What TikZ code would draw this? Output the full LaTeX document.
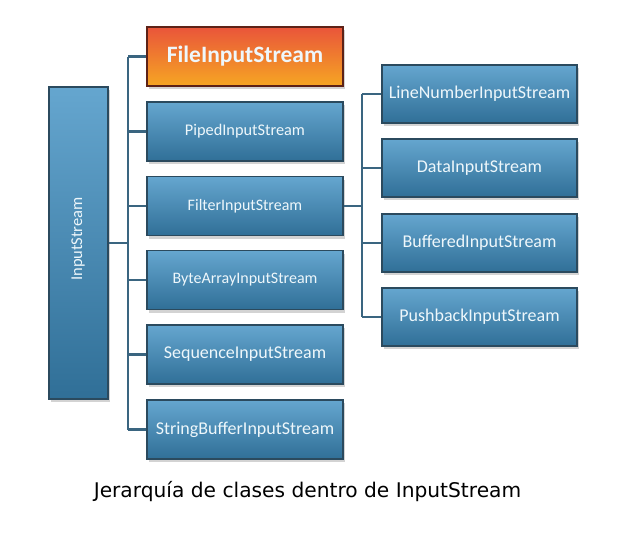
\documentclass[tikz,border=0pt]{standalone}
\usepackage{fontspec}
\newfontfamily\boxfont{Carlito}
\newfontfamily\capfont{DejaVu Sans}
\usetikzlibrary{shadows}
\definecolor{boxtop}{HTML}{65A6CF}
\definecolor{boxbot}{HTML}{306F97}
\definecolor{boxline}{HTML}{2B4A5E}
\definecolor{oratop}{HTML}{E9553A}
\definecolor{orabot}{HTML}{F6A623}
\definecolor{wire}{HTML}{3A6580}
\definecolor{boxtext}{HTML}{EEF7FB}
\tikzset{
  cls/.style={rectangle, draw=boxline, line width=1.2pt, top color=boxtop, bottom color=boxbot,
    text=boxtext, font=\boxfont, minimum width=196pt, minimum height=59pt, inner sep=0pt,
    drop shadow={opacity=0.35, shadow xshift=2pt, shadow yshift=-3pt}},
  sub/.style={cls, minimum width=195pt, minimum height=58pt},
  wire/.style={draw=wire, line width=2.4pt}
}
\begin{document}
\begin{tikzpicture}[x=1pt,y=-1pt]
\useasboundingbox (0,0) rectangle (634,541);
\node [cls, minimum width=59pt, minimum height=312pt] (inp) at (78.5,243) {};
\node [rotate=90, text=boxtext, font=\boxfont\fontsize{16.5}{18}\selectfont] (inplabel) at (78,239) {InputStream};
\node [cls, top color=oratop, bottom color=orabot, draw=black!60!oratop, font=\boxfont\bfseries\fontsize{23.5}{26}\selectfont] (file) at (245,56.5) {FileInputStream};
\node [cls, font=\boxfont\fontsize{16.3}{18}\selectfont] (piped) at (245,131.5) {PipedInputStream};
\node [cls, font=\boxfont\fontsize{16}{18}\selectfont] (filter) at (245,206) {FilterInputStream};
\node [cls, font=\boxfont\fontsize{16}{18}\selectfont] (bytearr) at (245,280) {ByteArrayInputStream};
\node [cls, font=\boxfont\fontsize{18}{20}\selectfont] (seq) at (245,354.5) {SequenceInputStream};
\node [cls, font=\boxfont\fontsize{18}{20}\selectfont] (sbuf) at (245,429.5) {StringBufferInputStream};
\node [sub, font=\boxfont\fontsize{18}{20}\selectfont] (linenum) at (479.5,94) {LineNumberInputStream};
\node [sub, font=\boxfont\fontsize{18}{20}\selectfont] (data) at (479.5,168) {DataInputStream};
\node [sub, font=\boxfont\fontsize{18}{20}\selectfont] (buffered) at (479.5,243) {BufferedInputStream};
\node [sub, font=\boxfont\fontsize{18}{20}\selectfont] (pushback) at (479.5,317) {PushbackInputStream};
\coordinate (trunk) at (128,243);
\coordinate (subtrunk) at (362,206);
\draw [wire] (trunk |- file.west) -- (trunk |- sbuf.west);
\draw [wire] (inp.east |- trunk) -- (trunk);
\draw [wire] (trunk |- file.west) -- (file.west);
\draw [wire] (trunk |- piped.west) -- (piped.west);
\draw [wire] (trunk |- filter.west) -- (filter.west);
\draw [wire] (trunk |- bytearr.west) -- (bytearr.west);
\draw [wire] (trunk |- seq.west) -- (seq.west);
\draw [wire] (trunk |- sbuf.west) -- (sbuf.west);
\draw [wire] (subtrunk |- linenum.west) -- (subtrunk |- pushback.west);
\draw [wire] (filter.east) -- (subtrunk);
\draw [wire] (subtrunk |- linenum.west) -- (linenum.west);
\draw [wire] (subtrunk |- data.west) -- (data.west);
\draw [wire] (subtrunk |- buffered.west) -- (buffered.west);
\draw [wire] (subtrunk |- pushback.west) -- (pushback.west);
\node [font=\capfont\fontsize{20.2}{24}\selectfont] (caption) at (307.5,492) {Jerarquía de clases dentro de InputStream};
\end{tikzpicture}
\end{document}
